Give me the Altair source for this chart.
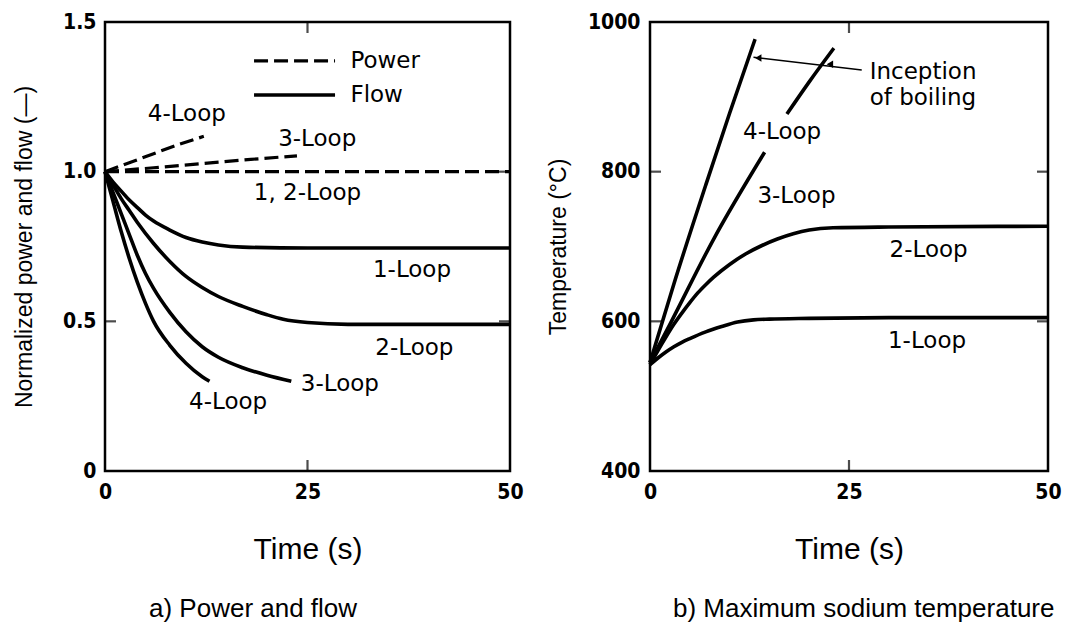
import altair as alt
import pandas as pd

# ---------------- data ----------------
# a) Power and flow (normalized)
pow12_t = [0, 50]
pow12_v = [1.0, 1.0]
pow3_t = [0, 6, 12, 18, 23.7]
pow3_v = [1.0, 1.013, 1.027, 1.041, 1.053]
pow4_t = [0, 3, 6, 9, 12.2]
pow4_v = [1.0, 1.03, 1.06, 1.09, 1.118]

flow1_t = [0, 1, 2, 3, 4, 5, 6, 8, 10, 12, 14, 17, 25, 50]
flow1_v = [1.0, 0.965, 0.935, 0.905, 0.88, 0.855, 0.835, 0.805, 0.78, 0.765, 0.755, 0.748, 0.745, 0.745]
flow2_t = [0, 1, 2, 3, 4, 6, 8, 10, 12, 14, 17, 20, 22, 25, 30, 50]
flow2_v = [1.0, 0.955, 0.91, 0.87, 0.83, 0.76, 0.70, 0.65, 0.613, 0.583, 0.55, 0.522, 0.507, 0.496, 0.49, 0.49]
flow3_t = [0, 1, 2, 3, 4, 5, 6, 8, 10, 12, 14, 17, 20, 23]
flow3_v = [1.0, 0.93, 0.86, 0.79, 0.72, 0.66, 0.61, 0.53, 0.465, 0.415, 0.38, 0.345, 0.32, 0.30]
flow4_t = [0, 1, 2, 3, 4, 5, 6, 8, 10, 12, 12.9]
flow4_v = [1.0, 0.90, 0.80, 0.71, 0.63, 0.56, 0.50, 0.42, 0.36, 0.315, 0.30]

a_lab_text = ["4-Loop", "3-Loop", "1, 2-Loop", "1-Loop", "2-Loop", "3-Loop", "4-Loop"]
a_lab_t = [10.1, 26.2, 25.0, 37.9, 38.2, 29.0, 15.2]
a_lab_v = [1.194, 1.11, 0.93, 0.672, 0.412, 0.29, 0.23]

leg_text = ["Power", "Flow"]
leg_t0 = [18.4, 18.4]
leg_t1 = [28.4, 28.4]
leg_v = [1.37, 1.256]
leg_text_t = [30.3, 30.3]

# b) Maximum sodium temperature (deg C)
temp1_t = [0, 1, 2, 3, 4, 5, 7, 9, 11, 13, 15, 20, 30, 50]
temp1_v = [542, 551, 559, 566, 572, 577, 586, 593, 599, 602, 603, 604, 605, 605]
temp2_t = [0, 1, 2, 3, 4, 5, 6, 7, 8, 10, 12, 14, 16, 18, 20, 23, 30, 50]
temp2_v = [542, 561, 579, 596, 611, 625, 638, 649, 659, 676, 690, 701, 710, 717, 722, 725, 726, 727]
# 3-Loop line is broken where the "4-Loop" label crosses it
temp3a_t = [0, 2.6, 8, 14.4]
temp3a_v = [545, 598, 710, 826]
temp3b_t = [17.2, 20, 23.1]
temp3b_v = [877, 920, 965]
temp4_t = [0, 3, 7, 10, 13.2]
temp4_v = [545, 650, 782, 878, 977]

b_lab_text = ["4-Loop", "3-Loop", "2-Loop", "1-Loop"]
b_lab_t = [16.6, 18.4, 35.0, 34.8]
b_lab_v = [853, 767, 695, 574]

boil_text = ["Inception", "of boiling"]
boil_t = [27.6, 27.6]
boil_v = [933, 898]
arrow_t0 = [26.6]
arrow_v0 = [936]
arrow_t1 = [13.0]
arrow_v1 = [953]
head_t = [13.6, 22.6]
head_v = [952, 943.5]

captions = ["a) Power and flow", "b) Maximum sodium temperature"]

# ---------------- helpers ----------------
def lines(pairs):
    rows = []
    for name, ts, vs in pairs:
        for t, v in zip(ts, vs):
            rows.append({"series": name, "t": t, "v": v})
    return pd.DataFrame(rows)

LAB_FONT = "DejaVu Sans"
TICK_FONT = "Liberation Sans Narrow, DejaVu Sans Condensed, Liberation Sans"
TITLE_FONT = "Liberation Sans"
LAB_SIZE = 23
H = 449

def xenc():
    return alt.X("t:Q", scale=alt.Scale(domain=[0, 50], nice=False, zero=False),
                 axis=alt.Axis(values=[0, 25, 50], title="Time (s)", grid=False, ticks=False,
                               domain=False, labelFont=TICK_FONT, labelFontSize=21,
                               labelFontWeight="bold", labelPadding=10, titleFont=TITLE_FONT,
                               titleFontSize=30, titleFontWeight="normal", titlePadding=32,
                               labelColor="black", titleColor="black", labelFlush=False))

def yenc_a():
    return alt.Y("v:Q", scale=alt.Scale(domain=[0, 1.5], nice=False, zero=False),
                 axis=alt.Axis(values=[0, 0.5, 1.0, 1.5], title="Normalized power and flow (—)",
                               labelExpr="datum.value == 0 ? '0' : format(datum.value, '.1f')",
                               grid=False, ticks=False, domain=False, labelFont=TICK_FONT,
                               labelFontSize=21, labelFontWeight="bold", labelPadding=9,
                               titleFont=TITLE_FONT, titleFontSize=23, titleFontWeight="normal",
                               titlePadding=26, labelColor="black", titleColor="black"))

def yenc_b():
    return alt.Y("v:Q", scale=alt.Scale(domain=[400, 1000], nice=False, zero=False),
                 axis=alt.Axis(values=[400, 600, 800, 1000], title="Temperature (°C)", format="d",
                               grid=False, ticks=False, domain=False, labelFont=TICK_FONT,
                               labelFontSize=21, labelFontWeight="bold", labelPadding=10,
                               titleFont=TITLE_FONT, titleFontSize=23, titleFontWeight="normal",
                               titlePadding=17, labelColor="black", titleColor="black"))

# ---------------- panel a ----------------
flow_df = lines([("f1", flow1_t, flow1_v), ("f2", flow2_t, flow2_v),
                 ("f3", flow3_t, flow3_v), ("f4", flow4_t, flow4_v)])
pow_df = lines([("p12", pow12_t, pow12_v), ("p3", pow3_t, pow3_v), ("p4", pow4_t, pow4_v)])

flow_a = alt.Chart(flow_df).mark_line(color="black", strokeWidth=3.6, interpolate="monotone").encode(
    x=xenc(), y=yenc_a(), detail="series:N")
pow_a = alt.Chart(pow_df).mark_line(color="black", strokeWidth=3.2, strokeDash=[14, 6]).encode(
    x=xenc(), y=yenc_a(), detail="series:N")

lab_a = alt.Chart(pd.DataFrame({"t": a_lab_t, "v": a_lab_v, "txt": a_lab_text})).mark_text(
    font=LAB_FONT, fontSize=LAB_SIZE, color="black").encode(x=xenc(), y=yenc_a(), text="txt:N")

leg_df = pd.DataFrame({"t": leg_t0, "t1": leg_t1, "v": leg_v, "txt": leg_text, "tt": leg_text_t})
leg_pow = alt.Chart(leg_df.iloc[[0]]).mark_rule(color="black", strokeWidth=3.2, strokeDash=[14, 6]).encode(
    x=xenc(), x2="t1:Q", y=yenc_a())
leg_flow = alt.Chart(leg_df.iloc[[1]]).mark_rule(color="black", strokeWidth=3.6).encode(
    x=xenc(), x2="t1:Q", y=yenc_a())
leg_txt = alt.Chart(leg_df).mark_text(font=LAB_FONT, fontSize=LAB_SIZE, color="black", align="left").encode(
    x=alt.X("tt:Q", scale=alt.Scale(domain=[0, 50], nice=False)), y=yenc_a(), text="txt:N")

ytick_a = pd.DataFrame({"v": [0.5, 1.0]})
xtick = pd.DataFrame({"t": [25]})
ticks_a = [
    alt.Chart(ytick_a).mark_tick(orient="horizontal", size=11, thickness=2.2, xOffset=5.5, color="black").encode(
        x=alt.datum(0), y=yenc_a()),
    alt.Chart(ytick_a).mark_tick(orient="horizontal", size=11, thickness=2.2, xOffset=-5.5, color="black").encode(
        x=alt.datum(50), y=yenc_a()),
    alt.Chart(xtick).mark_tick(orient="vertical", size=11, thickness=2.2, yOffset=-5.5, color="black").encode(
        x=xenc(), y=alt.datum(0)),
    alt.Chart(xtick).mark_tick(orient="vertical", size=11, thickness=2.2, yOffset=5.5, color="black").encode(
        x=xenc(), y=alt.datum(1.5)),
]

panel_a = alt.layer(flow_a, pow_a, lab_a, leg_pow, leg_flow, leg_txt, *ticks_a).properties(
    width=405, height=H,
    title=alt.TitleParams(captions[0], orient="bottom", anchor="start", frame="group", dx=44,
                          offset=32, font=TITLE_FONT, fontSize=26, fontWeight="normal", color="black"))

# ---------------- panel b ----------------
temp_df = lines([("t1", temp1_t, temp1_v), ("t2", temp2_t, temp2_v),
                 ("t3a", temp3a_t, temp3a_v), ("t3b", temp3b_t, temp3b_v),
                 ("t4", temp4_t, temp4_v)])
temp_b = alt.Chart(temp_df).mark_line(color="black", strokeWidth=3.6, interpolate="monotone").encode(
    x=xenc(), y=yenc_b(), detail="series:N")
lab_b = alt.Chart(pd.DataFrame({"t": b_lab_t, "v": b_lab_v, "txt": b_lab_text})).mark_text(
    font=LAB_FONT, fontSize=LAB_SIZE, color="black").encode(x=xenc(), y=yenc_b(), text="txt:N")
boil_b = alt.Chart(pd.DataFrame({"t": boil_t, "v": boil_v, "txt": boil_text})).mark_text(
    font=LAB_FONT, fontSize=LAB_SIZE, color="black", align="left").encode(x=xenc(), y=yenc_b(), text="txt:N")
arrow_b = alt.Chart(pd.DataFrame({"t": arrow_t0, "t1": arrow_t1, "v": arrow_v0, "v1": arrow_v1})).mark_rule(
    color="black", strokeWidth=1.5).encode(x=xenc(), x2="t1:Q", y=yenc_b(), y2="v1:Q")
heads_b = alt.Chart(pd.DataFrame({"t": head_t, "v": head_v})).mark_point(
    shape="triangle-left", filled=True, color="black", size=55, opacity=1).encode(x=xenc(), y=yenc_b())

ytick_b = pd.DataFrame({"v": [600, 800]})
ticks_b = [
    alt.Chart(ytick_b).mark_tick(orient="horizontal", size=11, thickness=2.2, xOffset=5.5, color="black").encode(
        x=alt.datum(0), y=yenc_b()),
    alt.Chart(ytick_b).mark_tick(orient="horizontal", size=11, thickness=2.2, xOffset=-5.5, color="black").encode(
        x=alt.datum(50), y=yenc_b()),
    alt.Chart(xtick).mark_tick(orient="vertical", size=11, thickness=2.2, yOffset=-5.5, color="black").encode(
        x=xenc(), y=alt.datum(400)),
    alt.Chart(xtick).mark_tick(orient="vertical", size=11, thickness=2.2, yOffset=5.5, color="black").encode(
        x=xenc(), y=alt.datum(1000)),
]

panel_b = alt.layer(temp_b, lab_b, boil_b, arrow_b, heads_b, *ticks_b).properties(
    width=398, height=H,
    title=alt.TitleParams(captions[1], orient="bottom", anchor="start", frame="group", dx=23,
                          offset=32, font=TITLE_FONT, fontSize=26, fontWeight="normal", color="black"))

chart = alt.hconcat(panel_a, panel_b, spacing=21).properties(
    padding={"left": 12, "top": 9, "right": 0, "bottom": 0},
    background="white",
).configure_view(stroke="black", strokeWidth=2.5).configure_concat(spacing=21)

chart.save("out.html", embed_options={"renderer": "svg", "actions": False})
